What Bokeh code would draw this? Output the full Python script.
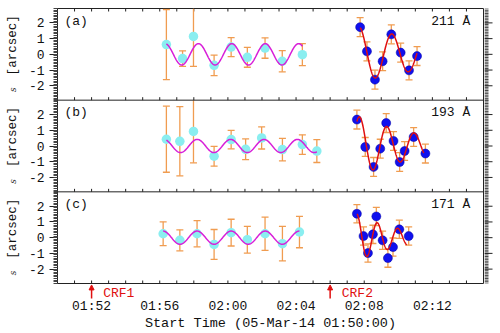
import numpy as np
from bokeh.plotting import figure
from bokeh.layouts import column, row
from bokeh.models import (FixedTicker, Span, Label, Arrow, NormalHead,
                          CustomJSTickFormatter, Range1d)
from bokeh.embed import file_html
from bokeh.resources import INLINE

# ---------------- data (time in minutes after 05-Mar-14 01:50:00) ----------------
panel_tags = ["(a)", "(b)", "(c)"]
wavelengths = ["211 Å", "193 Å", "171 Å"]

# cyan points (before CRF2) : time, displacement s [arcsec], error
a_cyan_t = [6.39, 7.34, 7.98, 9.19, 10.19, 11.14, 12.18, 13.19, 14.37]
a_cyan_s = [0.62, -0.27, 1.14, -0.70, 0.46, -0.19, 0.40, -0.44, -0.02]
a_cyan_e = [2.23, 0.49, 1.90, 0.65, 0.60, 0.63, 0.65, 0.67, 0.70]

b_cyan_t = [6.39, 7.18, 7.98, 9.19, 10.19, 11.04, 11.98, 13.20, 14.37, 15.22]
b_cyan_s = [0.43, 0.30, 0.93, -0.65, 0.41, -0.21, 0.51, -0.23, 0.09, -0.32]
b_cyan_e = [2.10, 2.20, 2.00, 0.63, 0.59, 0.66, 0.70, 0.72, 0.62, 0.73]

c_cyan_t = [6.20, 7.18, 8.19, 9.19, 10.19, 11.14, 12.18, 13.20, 14.20]
c_cyan_s = [0.25, -0.17, 0.25, -0.43, 0.32, -0.13, 0.25, -0.38, 0.36]
c_cyan_e = [0.76, 0.67, 0.83, 0.95, 0.85, 0.85, 1.06, 1.10, 1.00]

# blue points (after CRF2)
a_blue_t = [17.76, 18.16, 18.63, 19.08, 19.59, 20.14, 20.63, 21.10]
a_blue_s = [1.73, 0.19, -1.61, -0.44, 1.27, 0.11, -1.02, -0.11]
a_blue_e = [0.60, 0.60, 0.60, 0.60, 0.60, 0.60, 0.60, 0.60]

b_blue_t = [17.57, 18.06, 18.55, 18.94, 19.29, 19.72, 20.08, 20.37, 20.90, 21.59]
b_blue_s = [1.68, -0.06, -1.33, -0.17, 1.46, 0.32, -1.02, -0.32, 0.57, -0.48]
b_blue_e = [0.60, 0.60, 0.60, 0.60, 0.60, 0.60, 0.60, 0.60, 0.60, 0.60]

c_blue_t = [17.57, 17.96, 18.22, 18.51, 18.71, 19.08, 19.39, 19.69, 20.06, 20.61]
c_blue_s = [1.52, 0.10, -0.98, 0.21, 1.35, -0.17, -1.30, -0.60, 0.53, 0.10]
c_blue_e = [0.58, 0.58, 0.58, 0.58, 0.58, 0.58, 0.58, 0.58, 0.58, 0.58]

# fitted sinusoid (magenta): amplitude, period [min], time of a peak, start, end
mag_amp = [0.68, 0.42, 0.42]
mag_period = [1.96, 1.96, 2.00]
mag_tpeak = [8.27, 8.20, 8.19]
mag_start = [6.39, 6.39, 6.20]
mag_end = [14.37, 15.22, 14.20]

# fitted damped sinusoid (red)
red_amp = [1.75, 1.85, 1.50]
red_period = [1.93, 1.60, 1.20]
red_tpeak = [17.70, 17.73, 17.57]
red_tau = [6.4, 4.0, 2.6]
red_start = [17.76, 17.57, 17.57]
red_end = [21.10, 21.50, 20.50]

# x ticks
xtick_pos = [2, 6, 10, 14, 18, 22]
xtick_lab = ["01:52", "01:56", "02:00", "02:04", "02:08", "02:12"]
xtick_small = list(range(1, 25))
crf_t = [2.0, 16.0]
crf_lab = ["CRF1", "CRF2"]
ytick_vals = [-2, -1, 0, 1, 2]

cyan_t = [a_cyan_t, b_cyan_t, c_cyan_t]
cyan_s = [a_cyan_s, b_cyan_s, c_cyan_s]
cyan_e = [a_cyan_e, b_cyan_e, c_cyan_e]
blue_t = [a_blue_t, b_blue_t, c_blue_t]
blue_s = [a_blue_s, b_blue_s, c_blue_s]
blue_e = [a_blue_e, b_blue_e, c_blue_e]

# ---------------- layout ----------------
FONT = "Liberation Mono"
H = 5.83                       # height of one panel in data units
OFF = [H, 0.0, -H]             # panel centres
LIM = H / 2 - 0.005
TICK = 0.19                    # ~3 px in data units
ORANGE = "#f09c50"
CYAN = "#8aeef0"
BLUE = "#1010ee"
MAGENTA = "#d81ed8"
RED = "#e01010"
TXT = "#111111"
LINE = "#222222"
BAND = "#444444"

xr = Range1d(0, 25)
yr_ = Range1d(-1.5 * H, 1.5 * H)

p = figure(width=459, height=284, x_range=xr, y_range=yr_,
           output_backend="svg", toolbar_location=None, x_axis_location=None,
           min_border_left=32, min_border_right=1, min_border_top=8, min_border_bottom=1)
p.grid.visible = False
p.outline_line_color = LINE
p.outline_line_width = 1
p.background_fill_color = "white"
p.border_fill_color = "white"

# left y axis
major = [o + v for o in OFF for v in ytick_vals]
minor = [round(o + k * 0.1, 4) for o in OFF for k in range(-29, 30)]
fmt = CustomJSTickFormatter(args=dict(H=H), code="""
const r = Math.round(tick - H * Math.round(tick / H));
return (r < 0 ? '-' : '') + Math.abs(r);
""")
yl = p.yaxis[0]
yl.ticker = FixedTicker(ticks=major, minor_ticks=minor)
yl.formatter = fmt
yl.major_tick_out = 8
yl.major_tick_in = 0
yl.minor_tick_out = 4
yl.minor_tick_in = 0
yl.minor_tick_line_color = BAND
yl.minor_tick_line_width = 1
yl.major_tick_line_color = LINE
yl.axis_line_color = LINE
yl.major_label_text_font = FONT
yl.major_label_text_font_size = "13px"
yl.major_label_text_color = TXT
yl.major_label_standoff = 5

# panel separators and small time ticks (top, separators, bottom)
for b in [H / 2, -H / 2]:
    p.add_layout(Span(location=b, dimension="width", line_color=LINE, line_width=1))
n = len(xtick_small)
for b, d in [(1.5 * H, -TICK), (H / 2, TICK), (-H / 2, TICK), (-1.5 * H, TICK)]:
    p.segment(x0=xtick_small, y0=[b] * n, x1=xtick_small, y1=[b + d] * n,
              line_color=LINE, line_width=1)

# ---------------- data drawing ----------------
def errorbars(ts, ss, es, off):
    x, lo, hi, capx, capy = [], [], [], [], []
    for t, s, e in zip(ts, ss, es):
        up, dn = s + e, s - e
        x.append(t)
        hi.append(off + min(up, LIM))
        lo.append(off + max(dn, -LIM))
        if up < LIM:
            capx.append(t); capy.append(off + up)
        if dn > -LIM:
            capx.append(t); capy.append(off + dn)
    p.segment(x0=x, y0=lo, x1=x, y1=hi, line_color=ORANGE, line_width=1.3)
    p.scatter(capx, capy, marker="dash", size=7, line_color=ORANGE, line_width=1.3)

for i in range(3):
    off = OFF[i]
    errorbars(cyan_t[i], cyan_s[i], cyan_e[i], off)
    p.scatter(cyan_t[i], [off + s for s in cyan_s[i]], size=9.5,
              fill_color=CYAN, line_color=None)
    tt = np.linspace(mag_start[i], mag_end[i], 300)
    yy = mag_amp[i] * np.cos(2 * np.pi * (tt - mag_tpeak[i]) / mag_period[i])
    p.line(tt, yy + off, line_color=MAGENTA, line_width=1.5)

    errorbars(blue_t[i], blue_s[i], blue_e[i], off)
    p.scatter(blue_t[i], [off + s for s in blue_s[i]], size=9,
              fill_color=BLUE, line_color="#0000a0", line_width=0.5)
    tt = np.linspace(red_start[i], red_end[i], 300)
    yy = (red_amp[i] * np.exp(-(tt - red_tpeak[i]) / red_tau[i])
          * np.cos(2 * np.pi * (tt - red_tpeak[i]) / red_period[i]))
    p.line(tt, yy + off, line_color=RED, line_width=1.5)

    p.add_layout(Label(x=0.41, y=off + 2.1, text=panel_tags[i], text_font=FONT,
                       text_font_size="13px", text_color=TXT,
                       text_align="left", text_baseline="middle"))
    p.add_layout(Label(x=24.22, y=off + 2.1, text=wavelengths[i], text_font=FONT,
                       text_font_size="13px", text_color=TXT,
                       text_align="right", text_baseline="middle"))

# ---------------- y-label strip (left) ----------------
lab = figure(width=25, height=284, x_range=(0, 1), y_range=yr_,
             output_backend="svg", toolbar_location=None,
             x_axis_location=None, y_axis_location=None,
             min_border_left=0, min_border_right=0, min_border_top=8, min_border_bottom=1)
lab.grid.visible = False
lab.outline_line_color = None
for off in OFF:
    lab.add_layout(Label(x=0.48, y=off + 0.57, text="[arcsec]", angle=np.pi / 2,
                         text_font=FONT, text_font_size="12.5px", text_color=TXT,
                         text_align="center", text_baseline="middle"))
    lab.add_layout(Label(x=0.48, y=off - 2.25, text="s", angle=np.pi / 2,
                         text_font="DejaVu Serif", text_font_size="9px",
                         text_font_style="italic", text_color="#333333",
                         text_align="center", text_baseline="middle"))

# ---------------- right tick strip (outward ticks of the right axis) ----------------
rs = figure(width=16, height=284, x_range=(0, 16), y_range=yr_,
            output_backend="svg", toolbar_location=None,
            x_axis_location=None, y_axis_location=None,
            min_border_left=0, min_border_right=0, min_border_top=8, min_border_bottom=1)
rs.grid.visible = False
rs.outline_line_color = None
rs.segment(x0=[0] * len(minor), y0=minor, x1=[4] * len(minor), y1=minor,
           line_color=BAND, line_width=1)
rs.segment(x0=[0] * len(major), y0=major, x1=[8] * len(major), y1=major,
           line_color=LINE, line_width=1)

# ---------------- CRF strip + time axis ----------------
crf = figure(width=500, height=49, x_range=xr, y_range=(0, 1),
             output_backend="svg", toolbar_location=None, y_axis_location=None,
             min_border_left=57, min_border_right=17, min_border_top=0, min_border_bottom=20)
crf.grid.visible = False
crf.outline_line_color = None
crf.xaxis.ticker = FixedTicker(ticks=xtick_pos, minor_ticks=[])
crf.xaxis.major_label_overrides = dict(zip(xtick_pos, xtick_lab))
crf.xaxis.major_tick_in = 0
crf.xaxis.major_tick_out = 0
crf.xaxis.minor_tick_in = 0
crf.xaxis.minor_tick_out = 0
crf.xaxis.axis_line_color = None
crf.xaxis.major_label_text_font = FONT
crf.xaxis.major_label_text_font_size = "13px"
crf.xaxis.major_label_text_color = TXT
crf.xaxis.major_label_standoff = 0
crf.xaxis.axis_label = "Start Time (05-Mar-14 01:50:00)"
crf.xaxis.axis_label_text_font = FONT
crf.xaxis.axis_label_text_font_size = "13.5px"
crf.xaxis.axis_label_text_font_style = "normal"
crf.xaxis.axis_label_text_color = TXT
crf.xaxis.axis_label_standoff = -1
for t, txt in zip(crf_t, crf_lab):
    crf.add_layout(Arrow(end=NormalHead(size=5, fill_color=RED, line_color=RED),
                         x_start=t, y_start=-0.3, x_end=t, y_end=0.97,
                         line_color=RED, line_width=1.5))
    crf.add_layout(Label(x=t + 0.68, y=0.38, text=txt, text_font=FONT,
                         text_font_size="13px", text_color=RED,
                         text_align="left", text_baseline="middle"))

layout = column(row(lab, p, rs), crf)
open("out.html", "w").write(file_html(layout, INLINE))
